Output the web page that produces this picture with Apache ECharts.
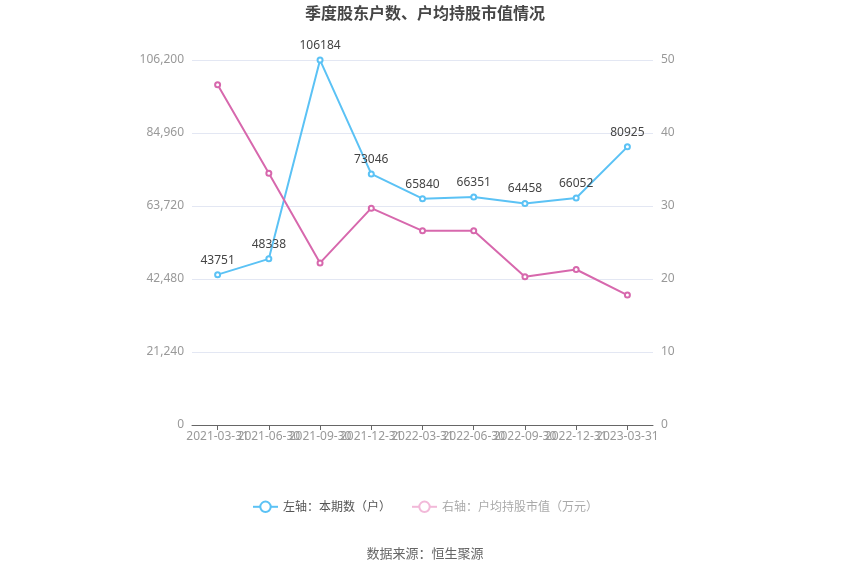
<!DOCTYPE html>
<html><head><meta charset="utf-8">
<script src="https://cdn.jsdelivr.net/npm/echarts@6/dist/echarts.min.js"></script>
<style>html,body{margin:0;padding:0;background:#fff}#c{width:850px;height:575px}</style>
</head><body><div id="c"></div>
<script>
var categories = ['2021-03-31','2021-06-30','2021-09-30','2021-12-31','2022-03-31','2022-06-30','2022-09-30','2022-12-31','2023-03-31'];
var holders = [43751, 48338, 106184, 73046, 65840, 66351, 64458, 66052, 80925];
var avgValue = [46.6, 34.5, 22.2, 29.7, 26.6, 26.6, 20.3, 21.3, 17.8];
var leftTicks = {min: 0, max: 106200, interval: 21240};
var rightTicks = {min: 0, max: 50, interval: 10};
var seriesNames = ['左轴：本期数（户）', '右轴：户均持股市值（万元）'];

var chart = echarts.init(document.getElementById('c'));
chart.setOption({
  animation: false,
  title: {text: '季度股东户数、户均持股市值情况', left: 'center', top: 0,
    textStyle: {fontSize: 16, fontWeight: 'bold', color: '#464646', fontFamily: 'Noto Sans CJK SC'}},
  grid: {left: 192, right: 197, top: 60, bottom: 150},
  legend: {bottom: 57, left: 'center', itemWidth: 25, itemHeight: 13, itemGap: 20,
    textStyle: {color: '#555', fontSize: 12, fontFamily: 'Noto Sans CJK SC'},
    data: [
      {name: seriesNames[0]},
      {name: seriesNames[1], textStyle: {color: '#aaa'}, lineStyle: {color: '#f2b9d9'}, itemStyle: {color: '#f2b9d9'}}
    ]},
  graphic: [{type: 'text', left: 'center', top: 547,
    style: {text: '数据来源：恒生聚源', fill: '#666', fontSize: 13, fontFamily: 'Noto Sans CJK SC'}}],
  xAxis: {type: 'category', data: categories, boundaryGap: true,
    axisLine: {lineStyle: {color: '#666'}},
    axisTick: {show: true, alignWithLabel: true, lineStyle: {color: '#666'}},
    axisLabel: {color: '#999', fontSize: 12, interval: 0, margin: 6, fontFamily: 'Noto Sans'}},
  yAxis: [
    {type: 'value', min: leftTicks.min, max: leftTicks.max, interval: leftTicks.interval,
      axisLine: {show: false}, axisTick: {show: false},
      axisLabel: {color: '#999', fontSize: 12, fontFamily: 'Noto Sans'},
      splitLine: {lineStyle: {color: '#e3e7f3'}}},
    {type: 'value', min: rightTicks.min, max: rightTicks.max, interval: rightTicks.interval,
      axisLine: {show: false}, axisTick: {show: false},
      axisLabel: {color: '#999', fontSize: 12, fontFamily: 'Noto Sans'},
      splitLine: {show: false}}
  ],
  series: [
    {name: seriesNames[0], type: 'line', yAxisIndex: 0, data: holders,
      symbol: 'emptyCircle', symbolSize: 5,
      lineStyle: {color: '#5bc2f5', width: 2},
      itemStyle: {color: '#5bc2f5'},
      label: {show: true, position: 'top', color: '#444', fontSize: 12, fontFamily: 'Noto Sans'}},
    {name: seriesNames[1], type: 'line', yAxisIndex: 1, data: avgValue,
      symbol: 'emptyCircle', symbolSize: 5,
      lineStyle: {color: '#d768ad', width: 2},
      itemStyle: {color: '#d768ad'}}
  ]
});
</script></body></html>
